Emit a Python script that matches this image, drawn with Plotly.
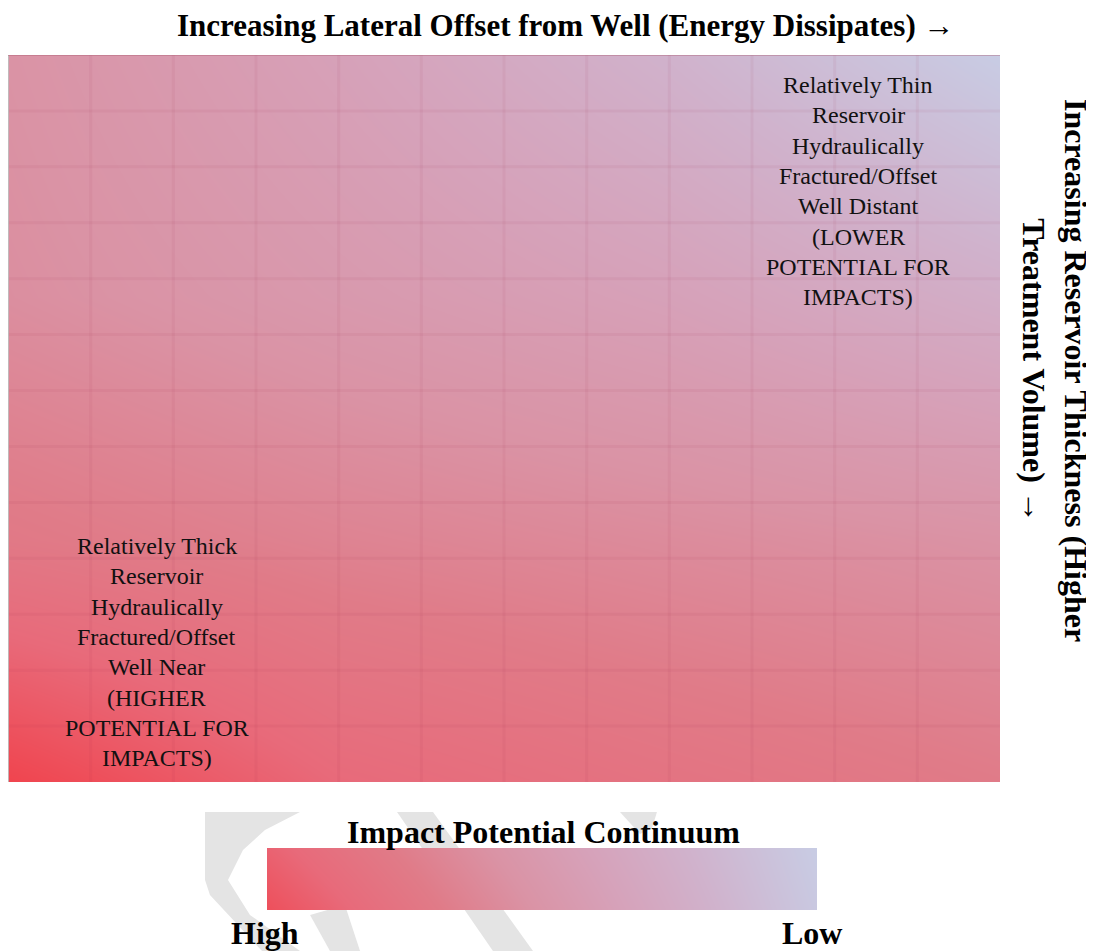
import plotly.graph_objects as go

# ---- data ----
# impact-potential level (0 = high impact / red, 1 = low impact / lavender)
grid_x = [0, 4, 8, 12]            # lateral offset (grid columns)
grid_y = [0, 13/3, 26/3, 13]      # reservoir thickness (grid rows)
impact_level = [
    [0.00, 0.20, 0.28, 0.35],     # bottom row
    [0.33, 0.40, 0.45, 0.50],
    [0.47, 0.56, 0.64, 0.76],
    [0.50, 0.64, 0.80, 1.00],     # top row
]
n_cols = 12
n_rows = 13

bar_x = [0, 1]
bar_y = [0, 1]
bar_level = [[0.06, 0.97], [0.16, 1.00]]

colorscale = [
    [0.00, "#F0444E"],
    [0.20, "#E86A7A"],
    [0.35, "#E07B88"],
    [0.50, "#DA93A5"],
    [0.65, "#D6A2BA"],
    [0.80, "#D0B2CC"],
    [1.00, "#C8CCE4"],
]

lines_high = ["Relatively Thick", "Reservoir", "Hydraulically", "Fractured/Offset",
              "Well Near", "(HIGHER", "POTENTIAL FOR", "IMPACTS)"]
lines_low = ["Relatively Thin", "Reservoir", "Hydraulically", "Fractured/Offset",
             "Well Distant", "(LOWER", "POTENTIAL FOR", "IMPACTS)"]
title_top = "Increasing Lateral Offset from Well (Energy Dissipates) →"
title_right = "Increasing Reservoir Thickness (Higher<br>Treatment Volume) →"
bar_title = "Impact Potential Continuum"
bar_left, bar_right = "High", "Low"

W, H = 1094, 951
OFF = 8  # page body margin
FONT = "Liberation Serif, Times New Roman, serif"


def PX(x):
    return (x - OFF) / W


def PY(y):
    return 1 - (y - OFF) / H


fig = go.Figure()
fig.add_trace(go.Heatmap(x=grid_x, y=grid_y, z=impact_level, zmin=0, zmax=1,
                         colorscale=colorscale, zsmooth="best", showscale=False,
                         hoverinfo="skip", xaxis="x", yaxis="y"))
fig.add_trace(go.Heatmap(x=bar_x, y=bar_y, z=bar_level, zmin=0, zmax=1,
                         colorscale=colorscale, zsmooth="best", showscale=False,
                         hoverinfo="skip", xaxis="x2", yaxis="y2"))

shapes = []
grid_line = dict(color="rgba(150,40,70,0.06)", width=3)
for i in range(1, n_cols):
    shapes.append(dict(type="line", xref="x", yref="y", x0=i, x1=i, y0=0, y1=n_rows,
                       line=grid_line, layer="above"))
for j in range(1, n_rows):
    shapes.append(dict(type="line", xref="x", yref="y", x0=0, x1=n_cols, y0=j, y1=j,
                       line=grid_line, layer="above"))
shapes.append(dict(type="line", xref="x", yref="y", x0=0, x1=0, y0=0, y1=n_rows,
                   line=dict(color="rgba(190,190,190,0.9)", width=2), layer="above"))
shapes.append(dict(type="line", xref="x", yref="y", x0=0, x1=n_cols, y0=n_rows, y1=n_rows,
                   line=dict(color="rgba(170,90,110,0.5)", width=1.5), layer="above"))


def path(pts):
    s = ""
    for k, (x, y) in enumerate(pts):
        s += ("M" if k == 0 else "L") + f"{PX(x):.4f},{PY(y):.4f} "
    return s + "Z"


wm = "#E4E4E4"
shapes += [
    dict(type="path", xref="paper", yref="paper", layer="below", fillcolor=wm, line_width=0,
         path=path([(205, 812), (300, 812), (265, 830), (243, 850), (228, 880), (250, 915),
                    (300, 951), (262, 951), (210, 895), (205, 880)])),
    dict(type="path", xref="paper", yref="paper", layer="below", fillcolor=wm, line_width=0,
         path=path([(310, 915), (345, 905), (360, 951), (330, 951)])),
    dict(type="path", xref="paper", yref="paper", layer="below", fillcolor=wm, line_width=0,
         path=path([(397, 812), (433, 812), (533, 951), (493, 951)])),
    dict(type="path", xref="paper", yref="paper", layer="below", fillcolor=wm, line_width=0,
         path=path([(620, 812), (657, 812), (652, 828), (640, 834)])),
]

annotations = []
body_font = dict(family=FONT, size=24, color="#111")
common = dict(xref="paper", yref="paper", showarrow=False, xanchor="center",
              yanchor="middle")
for k, t in enumerate(lines_high):
    annotations.append(dict(text=t, x=PX(157), y=PY(546 + k * 30.3), font=body_font,
                            **common))
for k, t in enumerate(lines_low):
    annotations.append(dict(text=t, x=PX(858), y=PY(85 + k * 30.3), font=body_font,
                            **common))

big = dict(family=FONT, size=32, color="#000")
annotations += [
    dict(text="<b>" + title_top + "</b>", x=PX(566), y=PY(26),
         font=dict(family=FONT, size=31, color="#000"), **common),
    dict(text="<b>" + title_right + "</b>", x=PX(1055), y=PY(370), textangle=90,
         font=big, align="center", **common),
    dict(text="<b>" + bar_title + "</b>", x=PX(543), y=PY(832), font=big, **common),
    dict(text="<b>" + bar_left + "</b>", x=PX(265), y=PY(933), font=big, **common),
    dict(text="<b>" + bar_right + "</b>", x=PX(812), y=PY(933), font=big, **common),
]

ax_common = dict(showgrid=False, zeroline=False, showticklabels=False, ticks="",
                 showline=False, fixedrange=True)
fig.update_layout(
    width=W, height=H,
    margin=dict(l=0, r=0, t=0, b=0),
    paper_bgcolor="white", plot_bgcolor="white",
    xaxis=dict(domain=[PX(8), PX(1000)], range=[0, n_cols], **ax_common),
    yaxis=dict(domain=[PY(782), PY(55)], range=[0, n_rows], **ax_common),
    xaxis2=dict(domain=[PX(267), PX(817)], range=[0, 1], anchor="y2", **ax_common),
    yaxis2=dict(domain=[PY(910), PY(848)], range=[0, 1], anchor="x2", **ax_common),
    shapes=shapes, annotations=annotations, showlegend=False,
)

fig.write_html("out.html", config={"displayModeBar": False})
